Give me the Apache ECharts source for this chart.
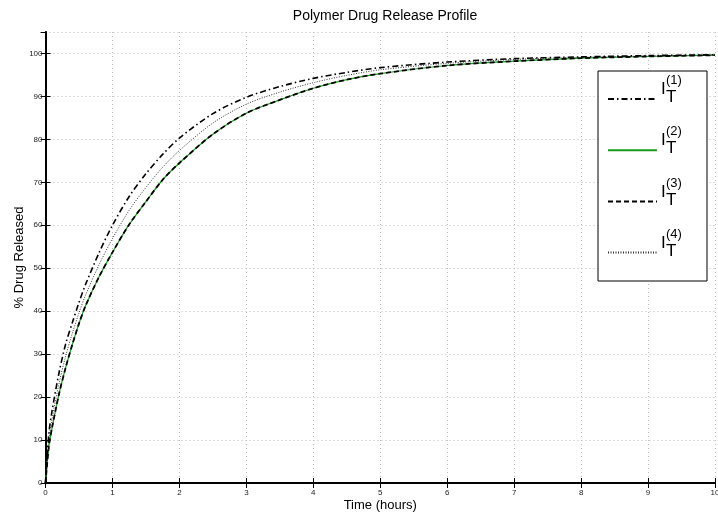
<!DOCTYPE html>
<html style="height: 100%">
<head>
<meta charset="utf-8">
</head>
<body style="height: 100%; margin: 0">
<div id="container" style="width: 718px; height: 512px"></div>
<script src="https://cdn.jsdelivr.net/npm/echarts@6/dist/echarts.min.js"></script>
<script type="text/javascript">
var times = [0, 0.05, 0.1, 0.2, 0.3, 0.4, 0.5, 0.6, 0.8, 1.0, 1.25, 1.5, 1.75, 2.0, 2.5, 3, 3.5, 4, 4.5, 5, 6, 7, 8, 9, 10];
var release1 = [0, 11.5, 17, 25.5, 32.3, 37.3, 42, 46.3, 53.6, 60, 66.7, 72, 76.5, 80.3, 86, 89.8, 92.3, 94.2, 95.6, 96.7, 98.0, 98.8, 99.2, 99.5, 99.7];
var release2 = [0, 8.5, 13, 20.6, 26.8, 32.2, 37.1, 41.3, 48, 53.7, 60.2, 65.5, 70.6, 74.5, 81.2, 86.1, 89.2, 91.9, 93.9, 95.3, 97.2, 98.2, 98.9, 99.3, 99.6];
var release3 = [0, 8.5, 13, 20.6, 26.8, 32.2, 37.1, 41.3, 48, 53.7, 60.2, 65.5, 70.6, 74.5, 81.2, 86.1, 89.2, 91.9, 93.9, 95.3, 97.2, 98.2, 98.9, 99.3, 99.6];
var release4 = [0, 10, 15, 23, 29.5, 34.8, 39.6, 43.8, 50.8, 56.9, 63.5, 68.8, 73.5, 77.4, 83.8, 88.2, 91.0, 93.2, 94.9, 96.2, 97.7, 98.6, 99.1, 99.4, 99.6];
var seriesNames = ['I1', 'I2', 'I3', 'I4'];
var supLabels = ['(1)', '(2)', '(3)', '(4)'];

function pairs(vals) {
    var res = [];
    for (var i = 0; i < times.length; i++) {
        res.push([times[i], vals[i]]);
    }
    return res;
}

var chart = echarts.init(document.getElementById('container'));
var font = 'Liberation Sans, Arial, Helvetica, sans-serif';
var gridLine = { show: true, lineStyle: { color: '#bdbdbd', type: [1, 3], width: 1 } };

// legend labels I_T^(n), drawn as text next to each legend row
var legendRows = [99, 150, 202, 253];
var graphics = [{
    type: 'rect',
    shape: { x: 598, y: 71, width: 109, height: 210 },
    style: { fill: '#fff', stroke: '#000', lineWidth: 1 },
    z: 50
}];
for (var k = 0; k < legendRows.length; k++) {
    var ry = legendRows[k];
    graphics.push({ type: 'text', x: 661, y: ry - 10, z: 60,
        style: { text: 'I', font: '17px ' + font, fill: '#000', verticalAlign: 'middle' } });
    graphics.push({ type: 'text', x: 666, y: ry - 19, z: 60,
        style: { text: supLabels[k], font: '13px ' + font, fill: '#000', verticalAlign: 'middle' } });
    graphics.push({ type: 'text', x: 666, y: ry - 2, z: 60,
        style: { text: 'T', font: '17px ' + font, fill: '#000', verticalAlign: 'middle' } });
}

var option = {
    backgroundColor: '#fff',
    animation: false,
    textStyle: { fontFamily: font },
    title: {
        text: 'Polymer Drug Release Profile',
        left: 380,
        textAlign: 'center',
        top: 4,
        textStyle: { fontSize: 14, fontWeight: 'normal', color: '#000', fontFamily: font }
    },
    legend: {
        orient: 'vertical',
        left: 607,
        top: 92,
        padding: 0,
        itemWidth: 49,
        itemHeight: 14,
        itemGap: 38.6,
        z: 55,
        itemStyle: { opacity: 0 },
        formatter: function () { return ''; },
        data: seriesNames
    },
    graphic: graphics,
    grid: { left: 45.5, right: 3, top: 32, bottom: 29, outerBoundsMode: 'none' },
    xAxis: [{
        type: 'value', min: 0, max: 10, interval: 1,
        name: 'Time (hours)', nameLocation: 'middle', nameGap: 16, nameMoveOverlap: false,
        nameTextStyle: { fontSize: 13, color: '#000', fontFamily: font },
        axisLine: { lineStyle: { color: '#000', width: 2 } },
        axisTick: { inside: true, length: 5, lineStyle: { color: '#000', width: 1 } },
        axisLabel: { fontSize: 8, color: '#222', margin: 6 },
        splitLine: gridLine
    }, {
        type: 'value', min: 0, max: 10, interval: 1, position: 'top',
        axisLine: { lineStyle: { color: '#000', width: 1 } },
        axisTick: { inside: true, length: 5, lineStyle: { color: '#000', width: 1 } },
        axisLabel: { show: false },
        splitLine: { show: false }
    }],
    yAxis: [{
        type: 'value', min: 0, max: 105, interval: 10,
        name: '% Drug Released', nameLocation: 'middle', nameGap: 20, nameMoveOverlap: false,
        nameTextStyle: { fontSize: 13, color: '#000', fontFamily: font },
        axisLine: { lineStyle: { color: '#000', width: 2 } },
        axisTick: { inside: true, length: 5, lineStyle: { color: '#000', width: 1 } },
        axisLabel: { fontSize: 8, color: '#222', margin: 3, showMaxLabel: false },
        splitLine: gridLine
    }, {
        type: 'value', min: 0, max: 105, interval: 10, position: 'right',
        axisLine: { lineStyle: { color: '#000', width: 1.5 } },
        axisTick: { inside: true, length: 5, lineStyle: { color: '#000', width: 1 } },
        axisLabel: { show: false },
        splitLine: { show: false }
    }],
    series: [{
        name: 'I1', type: 'line', symbol: 'none', smooth: 0.3,
        lineStyle: { color: '#000', width: 1.6, type: [6, 3, 1.5, 3] },
        itemStyle: { color: '#000' },
        data: pairs(release1), z: 4
    }, {
        name: 'I2', type: 'line', symbol: 'none', smooth: 0.3,
        lineStyle: { color: '#1a9a1a', width: 1.2 },
        itemStyle: { color: '#1a9a1a' },
        data: pairs(release2), z: 3
    }, {
        name: 'I3', type: 'line', symbol: 'none', smooth: 0.3,
        lineStyle: { color: '#000', width: 1.8, type: [5, 3] },
        itemStyle: { color: '#000' },
        data: pairs(release3), z: 5
    }, {
        name: 'I4', type: 'line', symbol: 'none', smooth: 0.3,
        lineStyle: { color: '#333', width: 1, type: [1, 1.5] },
        itemStyle: { color: '#333' },
        data: pairs(release4), z: 2
    }]
};
chart.setOption(option);
</script>
</body>
</html>
